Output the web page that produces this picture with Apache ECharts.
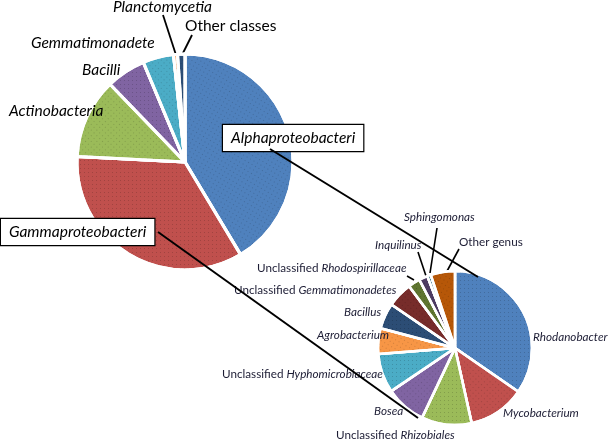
<!DOCTYPE html>
<html><head><meta charset="utf-8">
<script src="https://cdn.jsdelivr.net/npm/echarts@6/dist/echarts.min.js"></script>
<style>html,body{margin:0;padding:0;background:#fff}#c{width:610px;height:440px}</style>
</head><body><div id="c"></div>
<script>
// ---- data ----
const classNames = ['Alphaproteobacteri','Gammaproteobacteri','Actinobacteria','Bacilli','Gemmatimonadete','Planctomycetia','Other classes'];
const classValues = [41.4, 34.4, 12.0, 5.9, 4.6, 0.6, 1.1];
const genusNames = ['Rhodanobacter','Mycobacterium','Unclassified Rhizobiales','Bosea','Unclassified Hyphomicrobiaceae','Agrobacterium','Bacillus','Unclassified Gemmatimonadetes','Unclassified Rhodospirillaceae','Inquilinus','Sphingomonas','Other genus'];
const genusValues = [34.6, 11.9, 10.5, 8.5, 8.2, 5.4, 5.4, 5.3, 2.5, 1.8, 0.75, 5.1];

// ---- style ----
const classColors = ['#4F81BD','#C0504D','#9BBB59','#8064A2','#4BACC6','#F79646','#2C4D75'];
const genusColors = ['#4F81BD','#C0504D','#9BBB59','#8064A2','#4BACC6','#F79646','#2C4D75','#772C2A','#5F7530','#4D3B62','#276A7C','#B65708'];

// label layout: [x, y, align, linePoints or null]
const classLayout = {
  'Alphaproteobacteri': [223, 138, 'left', null],
  'Gammaproteobacteri': [1, 232, 'left', null],
  'Actinobacteria': [9, 111, 'left', null],
  'Bacilli': [82, 70, 'left', null],
  'Gemmatimonadete': [31, 43, 'left', null],
  'Planctomycetia': [113, 7, 'left', [[176,55],[163,15],[163,15]]],
  'Other classes': [185, 26, 'left', [[182,55],[192,35],[192,35]]]
};
const genusLayout = {
  'Rhodanobacter': [533, 337, 'left', null],
  'Mycobacterium': [503, 413, 'left', null],
  'Unclassified Rhizobiales': [336, 435, 'left', null],
  'Bosea': [374, 411, 'left', null],
  'Unclassified Hyphomicrobiaceae': [222, 374, 'left', null],
  'Agrobacterium': [317, 335, 'left', null],
  'Bacillus': [344, 312, 'left', null],
  'Unclassified Gemmatimonadetes': [234, 290, 'left', null],
  'Unclassified Rhodospirillaceae': [257, 268, 'left', [[414,280],[407,276],[407,276]]],
  'Inquilinus': [375, 245, 'left', [[427,279],[418,252],[418,252]]],
  'Sphingomonas': [404, 217, 'left', [[430,273],[437,228],[437,228]]],
  'Other genus': [459, 242, 'left', [[446,273],[459,249],[459,249]]]
};
// connectors from class boxes to the genus pie
const connectors = [
  [[270,149],[478,277]],
  [[158,232],[418,418]]
];

function fmt(p) {
  const n = p.name;
  if (n.indexOf('Unclassified ') === 0) return '{n|Unclassified }{i|' + n.slice(13) + '}';
  if (n.indexOf('Other') === 0) return '{n|' + n + '}';
  return '{i|' + n + '}';
}
const dots = { symbol: 'rect', symbolSize: 1, dashArrayX: [1, 3], dashArrayY: [1, 3], color: 'rgba(0,0,0,0.16)' };
function buildData(names, values, colors, layout) {
  return names.map((n, i) => ({
    name: n, value: values[i],
    itemStyle: { color: colors[i], decal: dots },
    labelLine: { show: !!layout[n][3] }
  }));
}
function makeLayout(names, layout) {
  return function (params) {
    const L = layout[names[params.dataIndex]];
    const r = { x: L[0], y: L[1], align: L[2], verticalAlign: 'middle' };
    if (L[3]) r.labelLinePoints = L[3];
    return r;
  };
}

const chart = echarts.init(document.getElementById('c'), null, { renderer: 'canvas' });
const bigRich = {
  i: { fontFamily: 'Lato', fontStyle: 'italic', fontSize: 15.5, color: '#000' },
  n: { fontFamily: 'Lato', fontSize: 15.5, color: '#000' }
};
const smallRich = {
  i: { fontFamily: 'Lato', fontStyle: 'italic', fontSize: 11.7, color: '#1c1c34' },
  n: { fontFamily: 'Lato', fontSize: 11.7, color: '#1c1c34' }
};
chart.setOption({
  animation: false,
  aria: { enabled: true, decal: { show: true } },
  graphic: connectors.map(c => ({
    type: 'line', z: 100, silent: true,
    shape: { x1: c[0][0], y1: c[0][1], x2: c[1][0], y2: c[1][1] },
    style: { stroke: '#000', lineWidth: 2 }
  })),
  series: [
    {
      type: 'pie', center: [185, 162], radius: 108, startAngle: 90, clockwise: true,
      avoidLabelOverlap: false,
      itemStyle: { borderColor: '#fff', borderWidth: 3 },
      label: {
        show: true, position: 'outside', formatter: fmt, rich: bigRich
      },
      labelLine: { show: true, showAbove: true, lineStyle: { color: '#000', width: 1.8 } },
      labelLayout: makeLayout(classNames, classLayout),
      emphasis: { disabled: true },
      data: buildData(classNames, classValues, classColors, classLayout).map(d => {
        if (d.name === 'Alphaproteobacteri' || d.name === 'Gammaproteobacteri') {
          d.label = { borderColor: '#000', borderWidth: 1.2, padding: [5, 8, 5, 8], backgroundColor: '#fff' };
        }
        return d;
      })
    },
    {
      type: 'pie', center: [455, 348], radius: 77, startAngle: 90, clockwise: true,
      avoidLabelOverlap: false,
      itemStyle: { borderColor: '#fff', borderWidth: 2.5 },
      label: {
        show: true, position: 'outside', formatter: fmt, rich: smallRich
      },
      labelLine: { show: true, showAbove: true, lineStyle: { color: '#000', width: 1.6 } },
      labelLayout: makeLayout(genusNames, genusLayout),
      emphasis: { disabled: true },
      data: buildData(genusNames, genusValues, genusColors, genusLayout)
    }
  ]
});
</script>
</body></html>
